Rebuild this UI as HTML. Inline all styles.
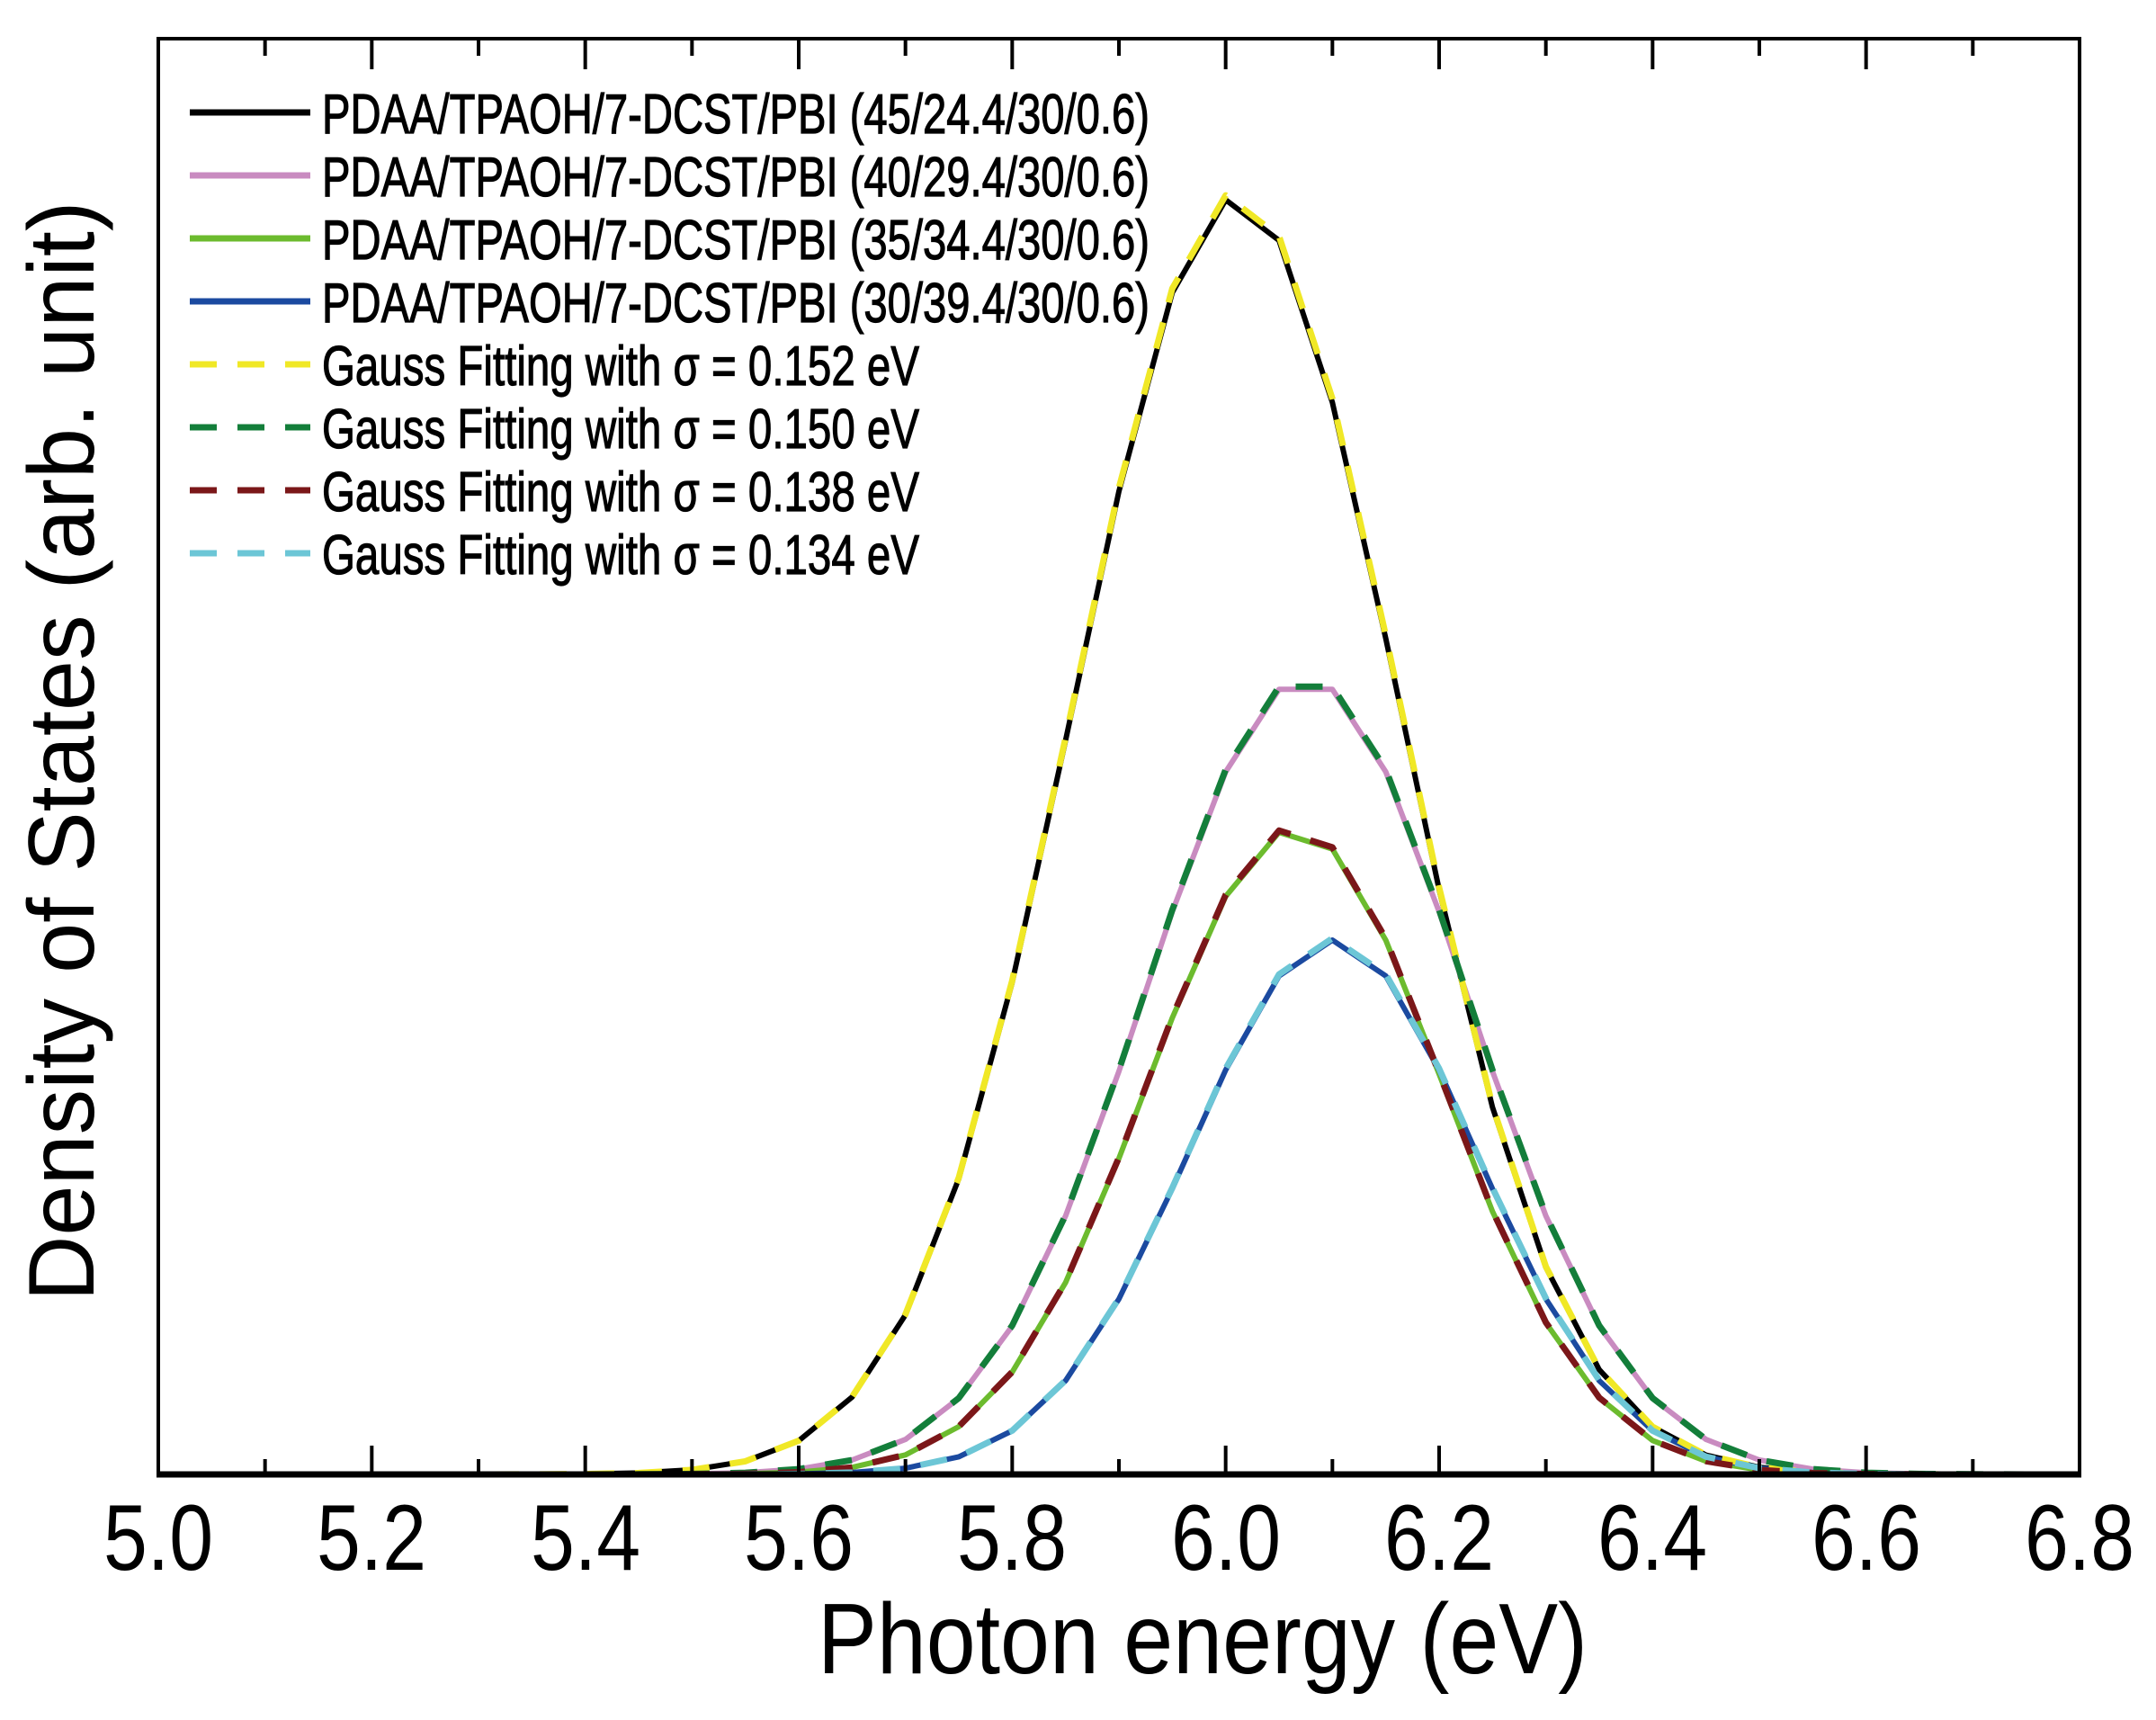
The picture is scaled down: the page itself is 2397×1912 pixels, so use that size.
<!DOCTYPE html>
<html><head><meta charset="utf-8"><style>
html,body{margin:0;padding:0;background:#fff;}
svg{display:block;}
text{font-family:"Liberation Sans",sans-serif;fill:#000;}
</style></head><body>
<svg id="s" width="2397" height="1912" viewBox="0 0 2397 1912" xmlns="http://www.w3.org/2000/svg">
<g id="curves"></g>
<rect x="176" y="43" width="2136" height="1596" fill="none" stroke="#000" stroke-width="4"/>
<line x1="174" y1="1639" x2="2314" y2="1639" stroke="#000" stroke-width="7"/>
<g id="ticks" stroke="#000" stroke-width="4"></g>
<g font-size="104">
<text x="176" y="1745" text-anchor="middle" textLength="122" lengthAdjust="spacingAndGlyphs">5.0</text>
<text x="413" y="1745" text-anchor="middle" textLength="122" lengthAdjust="spacingAndGlyphs">5.2</text>
<text x="651" y="1745" text-anchor="middle" textLength="122" lengthAdjust="spacingAndGlyphs">5.4</text>
<text x="888" y="1745" text-anchor="middle" textLength="122" lengthAdjust="spacingAndGlyphs">5.6</text>
<text x="1125" y="1745" text-anchor="middle" textLength="122" lengthAdjust="spacingAndGlyphs">5.8</text>
<text x="1363" y="1745" text-anchor="middle" textLength="122" lengthAdjust="spacingAndGlyphs">6.0</text>
<text x="1600" y="1745" text-anchor="middle" textLength="122" lengthAdjust="spacingAndGlyphs">6.2</text>
<text x="1837" y="1745" text-anchor="middle" textLength="122" lengthAdjust="spacingAndGlyphs">6.4</text>
<text x="2075" y="1745" text-anchor="middle" textLength="122" lengthAdjust="spacingAndGlyphs">6.6</text>
<text x="2312" y="1745" text-anchor="middle" textLength="122" lengthAdjust="spacingAndGlyphs">6.8</text>
</g>
<text x="1337" y="1860" font-size="111" text-anchor="middle" textLength="856" lengthAdjust="spacingAndGlyphs">Photon energy (eV)</text>
<text transform="translate(104,835) rotate(-90)" font-size="104" text-anchor="middle" textLength="1223" lengthAdjust="spacingAndGlyphs">Density of States (arb. unit)</text>
<g id="legend"></g>
</svg>
<script>
var NS="http://www.w3.org/2000/svg";
function el(p,n,a){var e=document.createElementNS(NS,n);for(var k in a)e.setAttribute(k,a[k]);p.appendChild(e);return e;}
var X0=176,X1=2312,Y0=1639;
function px(e){return X0+(e-5)*(X1-X0)/1.8;}
var t=document.getElementById('ticks');
for(var i=1;i<18;i++){var x=px(5+i*0.1);var L=(i%2==0)?32:17;
 el(t,'line',{x1:x,y1:Y0,x2:x,y2:Y0-L});el(t,'line',{x1:x,y1:45,x2:x,y2:45+L});}
var series=[
 {c:'#000000',mu:6.01,s:0.152,a:1420,d:null},
 {c:'#c98bc0',mu:6.075,s:0.150,a:885,d:null},
 {c:'#6cbb2e',mu:6.065,s:0.138,a:718,d:null},
 {c:'#1b4aa0',mu:6.1,s:0.134,a:594,d:null},
 {c:'#f0e826',mu:6.01,s:0.152,a:1425,d:'30 23'},
 {c:'#137e3a',mu:6.075,s:0.150,a:888,d:'30 23'},
 {c:'#7b1719',mu:6.065,s:0.138,a:720,d:'30 23'},
 {c:'#6cc6d6',mu:6.1,s:0.134,a:596,d:'30 23'}];
var g=document.getElementById('curves');
series.forEach(function(S){var pts=[];
 for(var e=5.0;e<=6.751;e+=0.05){var y=Y0-S.a*Math.exp(-Math.pow(e-S.mu,2)/(2*S.s*S.s));pts.push(px(e).toFixed(1)+','+y.toFixed(1));}
 var a={points:pts.join(' '),fill:'none',stroke:S.c,'stroke-width':(S.d?7:6),'stroke-linejoin':'round'};
 if(S.d)a['stroke-dasharray']=S.d;el(g,'polyline',a);});
var labels=['PDAA/TPAOH/7-DCST/PBI (45/24.4/30/0.6)','PDAA/TPAOH/7-DCST/PBI (40/29.4/30/0.6)','PDAA/TPAOH/7-DCST/PBI (35/34.4/30/0.6)','PDAA/TPAOH/7-DCST/PBI (30/39.4/30/0.6)',
'Gauss Fitting with \u03c3 = 0.152 eV','Gauss Fitting with \u03c3 = 0.150 eV','Gauss Fitting with \u03c3 = 0.138 eV','Gauss Fitting with \u03c3 = 0.134 eV'];
var lg=document.getElementById('legend');
for(var i=0;i<8;i++){var y=125+i*70;var S=series[i];
 var a={x1:211,y1:y,x2:345,y2:y,stroke:S.c,'stroke-width':7};if(S.d)a['stroke-dasharray']='30 23';el(lg,'line',a);
 var tx=el(lg,'text',{x:358,y:y+23,'font-size':62,stroke:'#000','stroke-width':1.2,textLength:(i<4?920:664),lengthAdjust:'spacingAndGlyphs'});tx.textContent=labels[i];}
</script>
</body></html>
